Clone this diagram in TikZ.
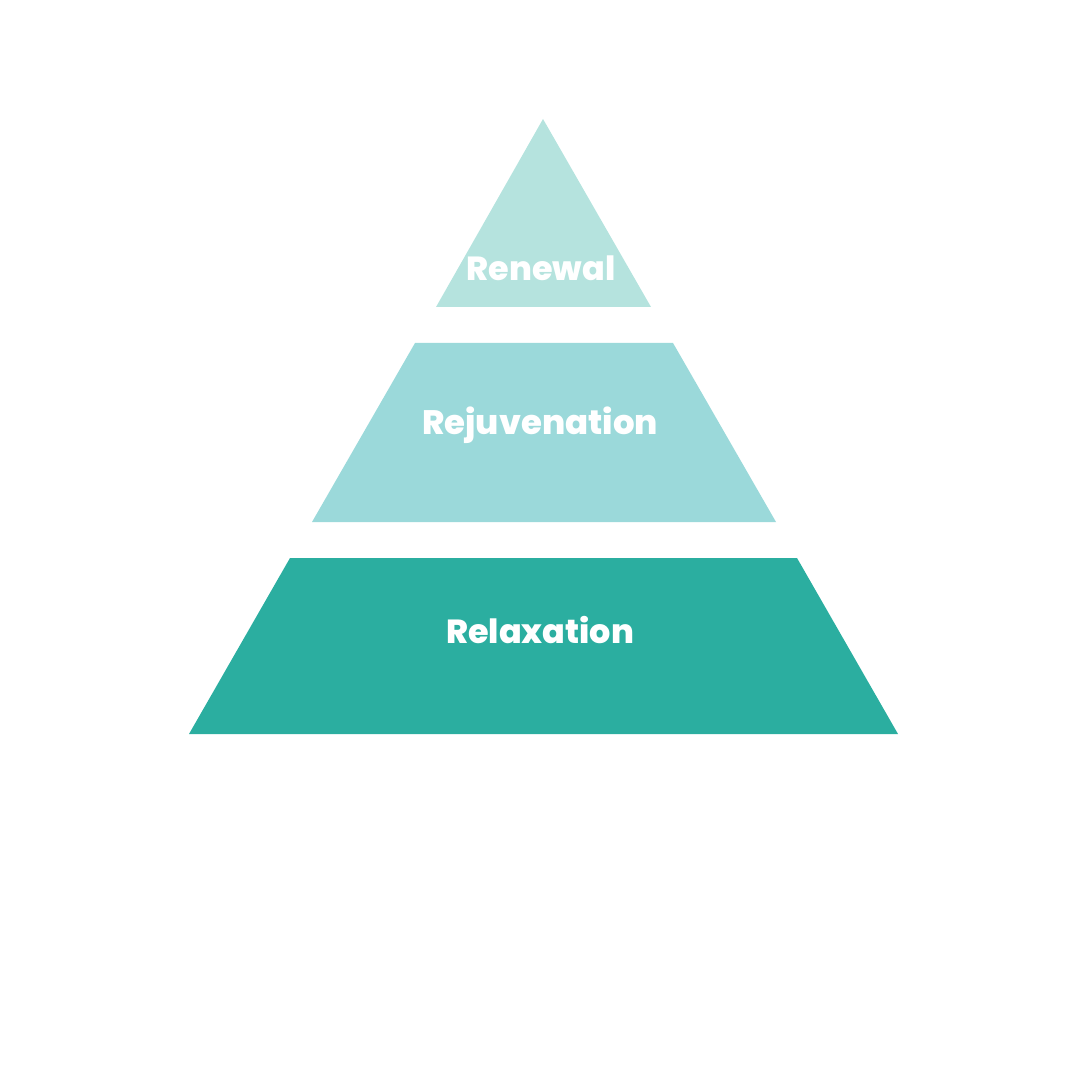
\documentclass[tikz,border=0pt]{standalone}
\usepackage{fontspec}
\setmainfont{Poppins}[BoldFont={Poppins ExtraBold}]
\usepackage{xcolor}
\usepackage{tikz}
\usetikzlibrary{positioning}

\definecolor{tiertop}{HTML}{B5E3DE}
\definecolor{tiermid}{HTML}{9BD9DA}
\definecolor{tierlow}{HTML}{2BAEA0}

\begin{document}
\begin{tikzpicture}[
    x=0.01cm, y=-0.01cm,
    tier/.style={draw=none},
    label/.style={anchor=base, text=white, inner sep=0pt, font=\fontsize{#1}{11}\selectfont\bfseries},
]
\useasboundingbox (0,0) rectangle (1080,1080);

% Tiers
\fill[tier, tiertop] (543,119) -- (651,307) -- (436,307) -- cycle;
\fill[tier, tiermid] (415,343) -- (673,343) -- (776,522) -- (312,522) -- cycle;
\fill[tier, tierlow] (290,558) -- (797,558) -- (898,734) -- (189,734) -- cycle;

% Labels
\node[label=9.5] (renewal) at (541,281) {Renewal};
\node[label=9.65] (rejuv) at (540,435) {Rejuvenation};
\node[label=9.5] (relax) at (540,643) {Relaxation};

\end{tikzpicture}
\end{document}
